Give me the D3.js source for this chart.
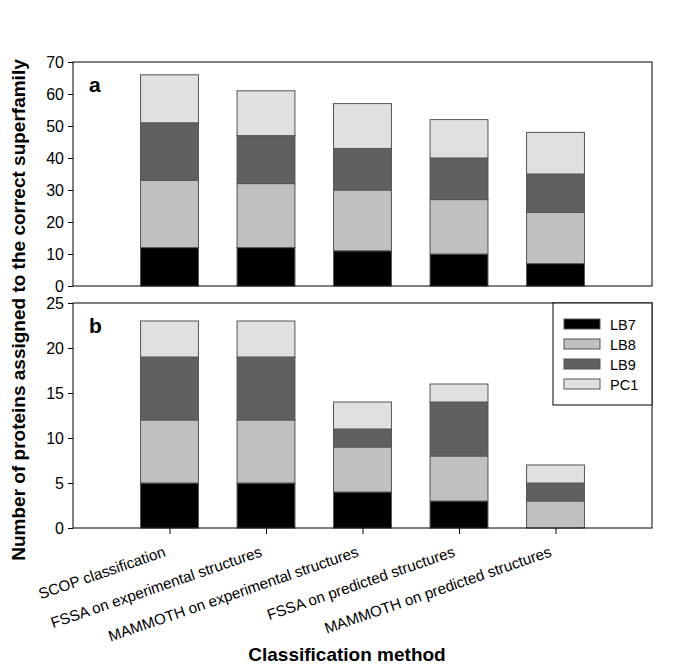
<!DOCTYPE html>
<html><head><meta charset="utf-8">
<script src="https://cdn.jsdelivr.net/npm/d3@7"></script>
<style>body{margin:0;background:#fff}svg{display:block}text{font-family:"Liberation Sans",Arial,sans-serif}</style>
</head><body>
<script>
const categories = ["SCOP classification","FSSA on experimental structures","MAMMOTH on experimental structures","FSSA on predicted structures","MAMMOTH on predicted structures"];
const seriesNames = ["LB7","LB8","LB9","PC1"];
const colors = ["#000000","#c0c0c0","#606060","#e0e0e0"];
// panel a values
const aLB7 = [12,12,11,10,7];
const aLB8 = [21,20,19,17,16];
const aLB9 = [18,15,13,13,12];
const aPC1 = [15,14,14,12,13];
// panel b values
const bLB7 = [5,5,4,3,0];
const bLB8 = [7,7,5,5,3];
const bLB9 = [7,7,2,6,2];
const bPC1 = [4,4,3,2,2];
const aTicks = [0,10,20,30,40,50,60,70];
const bTicks = [0,5,10,15,20,25];

const W=685,H=666;
const svg=d3.select("body").append("svg").attr("width",W).attr("height",H);
const x=d3.scaleLinear().domain([0,categories.length+1]).range([73,652]);
const barW = x(0.6)-x(0);

function panel(top,bottom,max,ticks,series,label,showXTicks){
  const y=d3.scaleLinear().domain([0,max]).range([bottom,top]);
  const rows=categories.map((c,i)=>{const o={cat:c,i:i};seriesNames.forEach((s,k)=>o[s]=series[k][i]);return o;});
  const stack=d3.stack().keys(seriesNames)(rows);
  const g=svg.append("g");
  stack.forEach((layer,k)=>{
    g.selectAll(null).data(layer.filter(d=>d[1]>d[0])).enter().append("rect")
      .attr("x",d=>x(d.data.i+1)-barW/2).attr("width",barW)
      .attr("y",d=>y(d[1])).attr("height",d=>y(d[0])-y(d[1]))
      .attr("fill",colors[k]).attr("stroke","#555").attr("stroke-width",1);
  });
  g.append("rect").attr("x",73).attr("y",top).attr("width",652-73).attr("height",bottom-top)
    .attr("fill","none").attr("stroke","#000").attr("stroke-width",1);
  const ya=d3.axisLeft(y).tickValues(ticks).tickSize(5).tickPadding(4).tickFormat(d3.format("d"));
  const ag=g.append("g").attr("transform","translate(73,0)").call(ya);
  ag.select(".domain").remove();
  ag.selectAll("text").attr("font-size",16).attr("font-family","Liberation Sans, Arial, sans-serif").attr("fill","#000");
  g.append("text").attr("x",89).attr("y",top+30).attr("font-size",21).attr("font-weight","bold").text(label);
  if(showXTicks){
    const xa=d3.axisBottom(x).tickValues(categories.map((c,i)=>i+1)).tickSize(6).tickFormat("");
    const xg=g.append("g").attr("transform",`translate(0,${bottom})`).call(xa);
    xg.select(".domain").remove();
    categories.forEach((c,i)=>{
      g.append("text").attr("transform",`translate(${x(i+1)-3},${bottom+28}) rotate(-19)`)
        .attr("text-anchor","end").attr("font-size",15.2).text(c);
    });
  }
  return y;
}
panel(62,286,70,aTicks,[aLB7,aLB8,aLB9,aPC1],"a",false);
panel(303,528,25,bTicks,[bLB7,bLB8,bLB9,bPC1],"b",true);

// legend
const lg=svg.append("g");
lg.append("rect").attr("x",553).attr("y",303).attr("width",99).attr("height",102).attr("fill","#fff").attr("stroke","#000");
seriesNames.forEach((s,k)=>{
  const cy=324+k*20;
  lg.append("rect").attr("x",564).attr("y",cy-5).attr("width",36).attr("height",10).attr("fill",colors[k]).attr("stroke","#555");
  lg.append("text").attr("x",610).attr("y",cy+5.5).attr("font-size",14.5).text(s);
});

svg.append("text").attr("transform","translate(25,310) rotate(-90)").attr("text-anchor","middle")
  .attr("font-size",19).attr("font-weight","bold").text("Number of proteins assigned to the correct superfamily");
svg.append("text").attr("x",347).attr("y",661).attr("text-anchor","middle")
  .attr("font-size",19).attr("font-weight","bold").text("Classification method");
</script>
</body></html>
